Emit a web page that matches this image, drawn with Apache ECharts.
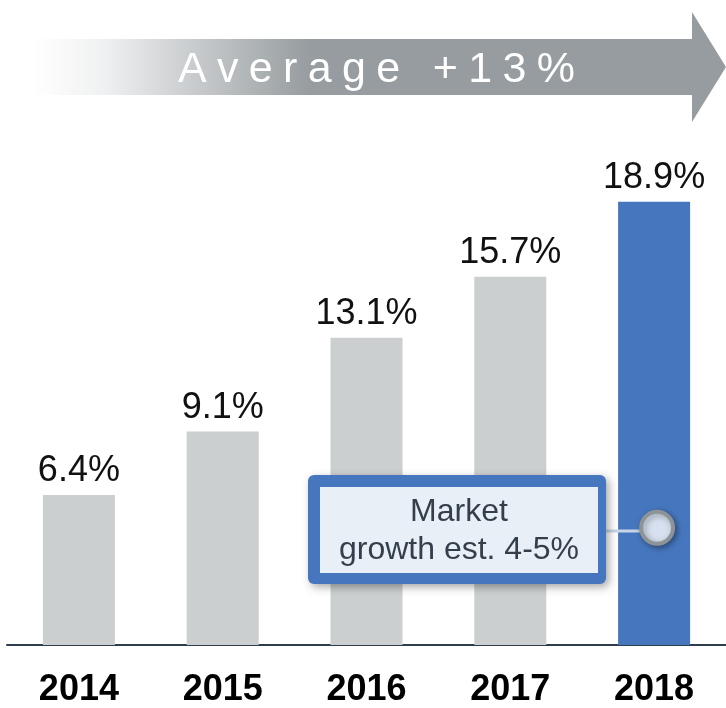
<!DOCTYPE html>
<html>
<head>
<meta charset="utf-8">
<script src="https://cdn.jsdelivr.net/npm/echarts@6/dist/echarts.min.js"></script>
<style>
  html, body { margin: 0; padding: 0; background: #fff; }
  #main { width: 726px; height: 708px; }
</style>
</head>
<body>
<div id="main"></div>
<script>
(function () {
    'use strict';

    // data
    var years = ['2014', '2015', '2016', '2017', '2018'];
    var growth = [6.4, 9.1, 13.1, 15.7, 18.9];
    var highlightYear = '2018';
    var marketGrowth = 5;              // where the callout dot sits
    var headline = 'Average +13%';
    var calloutText = 'Market\ngrowth est. 4-5%';

    var FONT = '"Liberation Sans", Arial, sans-serif';
    var GRAY = '#cbcfd0';
    var BLUE = '#4677be';

    var myChart = echarts.init(document.getElementById('main'));

    // headline text, one glyph per element so we can spread the letters
    var ctx = document.createElement('canvas').getContext('2d');
    var hSize = 43, hFamily = '"Liberation Sans Narrow", "Liberation Sans"';
    ctx.font = hSize + 'px ' + hFamily;
    var chars = headline.split('');
    var glyphs = 0;
    chars.forEach(function (c) { glyphs += ctx.measureText(c).width; });
    var hSpacing = (397 - glyphs) / (chars.length - 1);
    var hx = 178;
    var headlineEls = chars.map(function (c) {
        var el = {
            type: 'text',
            x: hx,
            y: 70,
            z: 10,
            style: {
                text: c,
                fill: '#fff',
                fontSize: hSize,
                fontFamily: hFamily,
                align: 'left',
                verticalAlign: 'middle'
            }
        };
        hx += ctx.measureText(c).width + hSpacing;
        return el;
    });

    var option = {
        animation: false,
        grid: {
            left: 7,
            right: -4,
            top: 176,
            bottom: 51,
            containLabel: false
        },
        xAxis: {
            type: 'category',
            data: years,
            axisTick: {show: false},
            axisLine: {
                show: true,
                lineStyle: {color: '#2e3c4b', width: 2}
            },
            axisLabel: {
                margin: 27,
                fontSize: 36,
                fontWeight: 'bold',
                fontFamily: FONT,
                color: '#000'
            }
        },
        yAxis: {
            type: 'value',
            min: 0,
            max: 20,
            show: false,
            splitLine: {show: false}
        },
        series: [{
            type: 'bar',
            barWidth: 72,
            data: growth.map(function (v, i) {
                return {
                    value: v,
                    itemStyle: {color: years[i] === highlightYear ? BLUE : GRAY}
                };
            }),
            label: {
                show: true,
                position: 'top',
                distance: 6,
                fontSize: 36,
                fontFamily: FONT,
                color: '#111',
                formatter: function (p) {
                    return p.value.toFixed(1) + '%';
                }
            },
            markPoint: {
                symbol: 'circle',
                symbolSize: 32,
                symbolOffset: [3, 0],
                z: 20,
                label: {show: false},
                itemStyle: {
                    color: '#d6e0ef',
                    borderColor: '#8e9398',
                    borderWidth: 4,
                    shadowBlur: 6,
                    shadowOffsetX: 2,
                    shadowOffsetY: 2,
                    shadowColor: 'rgba(0,0,0,0.35)'
                },
                data: [{coord: [highlightYear, marketGrowth]}]
            }
        }],
        graphic: [
            {
                type: 'polygon',
                z: 5,
                shape: {
                    points: [[33, 39], [692, 39], [692, 12], [726, 67], [692, 122], [692, 95], [33, 95]]
                },
                style: {
                    fill: {
                        type: 'linear', x: 0, y: 0, x2: 1, y2: 0,
                        colorStops: [
                            {offset: 0, color: '#ffffff'},
                            {offset: 0.1, color: '#f0f1f2'},
                            {offset: 0.4, color: '#969c9f'},
                            {offset: 1, color: '#969c9f'}
                        ]
                    }
                }
            },
            // callout connector
            {
                type: 'line',
                z: 15,
                shape: {x1: 598, y1: 531, x2: 646, y2: 531},
                style: {stroke: '#c8d5e8', lineWidth: 3}
            },
            {
                type: 'rect',
                z: 16,
                shape: {x: 308, y: 475, width: 298, height: 109, r: 6},
                style: {
                    fill: BLUE,
                    shadowBlur: 8,
                    shadowOffsetX: 3,
                    shadowOffsetY: 3,
                    shadowColor: 'rgba(0,0,0,0.35)'
                }
            },
            {
                type: 'rect',
                z: 17,
                shape: {x: 320, y: 487, width: 278, height: 86},
                style: {fill: '#e9eff7'}
            },
            {
                type: 'text',
                z: 18,
                x: 459,
                y: 531,
                style: {
                    text: calloutText,
                    fontSize: 32,
                    fontFamily: 'Liberation Sans',
                    fill: '#333f4a',
                    lineHeight: 38,
                    align: 'center',
                    verticalAlign: 'middle'
                }
            }
        ].concat(headlineEls)
    };

    myChart.setOption(option);
})();
</script>
</body>
</html>
